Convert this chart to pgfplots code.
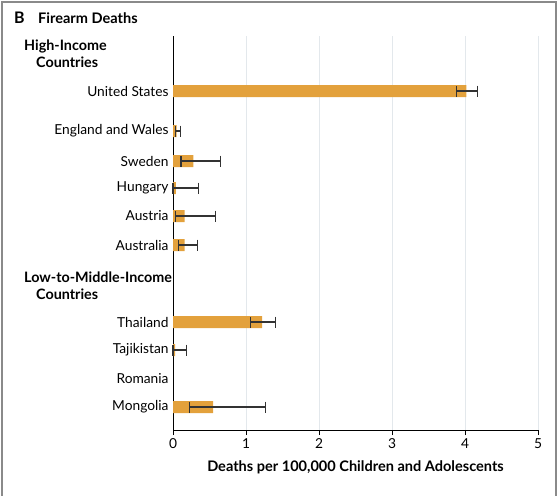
\documentclass[border=0pt]{standalone}
\usepackage{pgfplots}
\pgfplotsset{compat=1.18}
\usepackage{fontspec}
\setmainfont{Lato}
\definecolor{barc}{HTML}{E3A13C}
\definecolor{errc}{HTML}{333333}
\definecolor{gridc}{HTML}{E3E8EC}
\definecolor{framec}{HTML}{8A8A8A}
\begin{document}
\begin{tikzpicture}
\useasboundingbox (0bp,0bp) rectangle (559bp,-496bp);
\draw[framec,line width=1.2bp] (2bp,-497bp) -- (2bp,-2bp) -- (556bp,-2bp) -- (556bp,-497bp);
\node[anchor=base west,inner sep=0pt,font=\fontsize{16}{18}\selectfont\bfseries] at (14bp,-23bp) {B};
\node[anchor=base west,inner sep=0pt,font=\fontsize{14.6}{17}\selectfont\bfseries] at (38bp,-23bp) {Firearm Deaths};
\node[anchor=base west,inner sep=0pt,font=\fontsize{14.4}{16}\selectfont\bfseries] at (24bp,-50bp) {High-Income};
\node[anchor=base west,inner sep=0pt,font=\fontsize{14.4}{16}\selectfont\bfseries] at (36bp,-67bp) {Countries};
\node[anchor=base west,inner sep=0pt,font=\fontsize{14.4}{16}\selectfont\bfseries] at (24bp,-282bp) {Low-to-Middle-Income};
\node[anchor=base west,inner sep=0pt,font=\fontsize{14.4}{16}\selectfont\bfseries] at (36bp,-299bp) {Countries};
\begin{axis}[
  at={(173bp,-430bp)}, anchor=south west,
  scale only axis, width=365bp, height=394bp,
  xmin=0, xmax=5, ymin=36, ymax=430,
  y dir=reverse,
  axis lines*=left,
  axis line style={line width=0.9bp, black},
  xtick={0,1,2,3,4,5},
  xtick align=outside,
  major tick length=5bp,
  xtick style={line width=0.9bp, black},
  ytick={91,131,161,188,216,245,322,350,379,407},
  yticklabels={United States,England and Wales,Sweden,Hungary,Austria,Australia,Thailand,Tajikistan,Romania,Mongolia},
  ytick style={draw=none},
  xmajorgrids, grid style={gridc, line width=0.8bp},
  tick label style={font=\fontsize{13.8}{16}\selectfont},
  /pgf/number format/assume math mode=true,
  xlabel={\bfseries Deaths per 100,000 Children and Adolescents},
  xlabel style={font=\fontsize{14.6}{17}\selectfont, yshift=-5bp},
  yticklabel style={xshift=-1bp},
  clip=false,
]
\addplot[xbar, bar width=12bp, fill=barc, draw=none, bar shift=0pt,
  error bars/.cd, x dir=both, x explicit,
  error bar style={errc, line width=1.1bp},
  error mark options={errc, line width=1.1bp, mark size=5.5bp, rotate=90}]
  table[x=x, y=y, x error plus=ep, x error minus=em] {
x y ep em
4.02 91 0.15 0.14
0.05 131 0.05 0.02
0.28 161 0.37 0.17
0.04 188 0.31 0.04
0.16 216 0.42 0.13
0.16 245 0.17 0.09
1.22 322 0.19 0.16
0.03 350 0.16 0.03
0.55 407 0.72 0.33
};
\end{axis}
\end{tikzpicture}
\end{document}
